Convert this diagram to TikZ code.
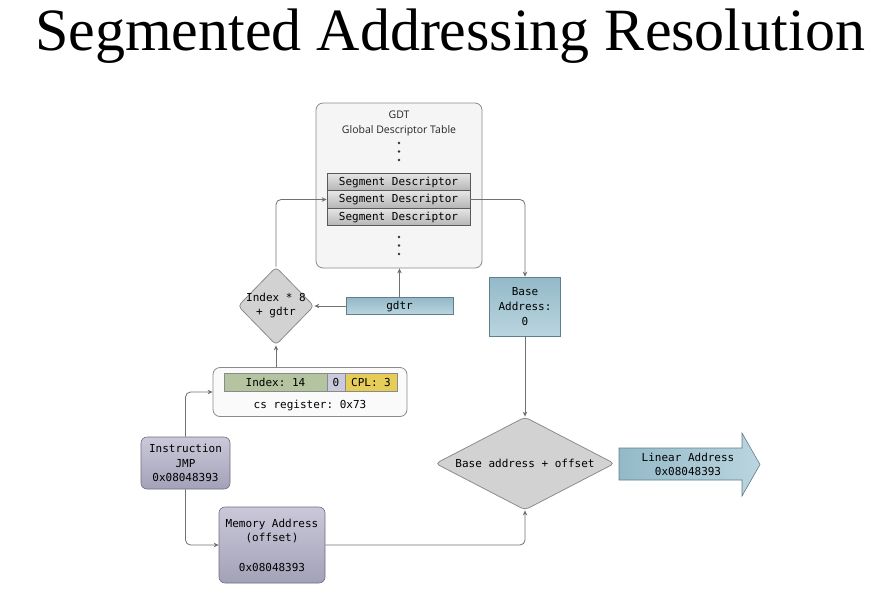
\documentclass[tikz,border=0pt]{standalone}
\usepackage{fontspec}
\setmainfont{Liberation Serif}
\setsansfont{Open Sans}
\setmonofont{DejaVu Sans Mono}
\usetikzlibrary{shapes.geometric,arrows.meta}
\definecolor{linec}{HTML}{707070}
\definecolor{boxborder}{HTML}{8A8A8A}
\definecolor{gdtfill}{HTML}{F5F5F5}
\definecolor{seglight}{HTML}{E6E6E6}
\definecolor{segdark}{HTML}{B4B4B4}
\definecolor{segborder}{HTML}{5A5A5A}
\definecolor{diamfill}{HTML}{D2D2D2}
\definecolor{diamborder}{HTML}{8C8C8C}
\definecolor{bluelight}{HTML}{BAD5DF}
\definecolor{bluedark}{HTML}{93B9C8}
\definecolor{blueborder}{HTML}{5F7F8C}
\definecolor{purplelight}{HTML}{CAC8D9}
\definecolor{purpledark}{HTML}{A3A1B7}
\definecolor{purpleborder}{HTML}{6E6C80}
\definecolor{csfill}{HTML}{FAFAFA}
\definecolor{idxfill}{HTML}{B4C3A0}
\definecolor{zerofill}{HTML}{CACADD}
\definecolor{cplfill}{HTML}{E6CC58}
\tikzset{
  conn/.style={draw=linec, line width=0.8pt, rounded corners=5pt, -{Stealth[length=5pt,width=4.5pt]}},
  mono/.style={font=\ttfamily\fontsize{11}{14.7}\selectfont},
  segrow/.style={mono, draw=segborder, line width=0.6pt, top color=seglight, bottom color=segdark, minimum width=143pt, minimum height=17.5pt, inner sep=0pt},
  bluebox/.style={mono, draw=blueborder, line width=0.6pt, top color=bluedark, bottom color=bluelight, inner sep=0pt, align=center},
  purplebox/.style={mono, draw=purpleborder, line width=0.6pt, top color=purplelight, bottom color=purpledark, rounded corners=6pt, inner sep=0pt, align=center},
  diam/.style={diamond, draw=diamborder, line width=0.8pt, fill=diamfill, rounded corners=4pt, inner sep=0pt},
  cell/.style={mono, draw=boxborder, line width=0.6pt, minimum height=18pt, inner sep=0pt},
  dot/.style={fill=black!80}
}
\begin{document}
\begin{tikzpicture}[x=1pt,y=-1pt]
\useasboundingbox (0,0) rectangle (888,592);
% title
\node[font=\fontsize{60}{60}\selectfont, anchor=base, inner sep=0pt] (title) at (450,50) {Segmented Addressing Resolution};
% GDT
\node[draw=boxborder, fill=gdtfill, rounded corners=7pt, line width=0.8pt, minimum width=166pt, minimum height=165pt] (gdt) at (399,185.5) {};
\node[font=\sffamily\fontsize{10.5}{15}\selectfont, align=center, text=black!85] (gdtlabel) at (399,123) {GDT\\Global Descriptor Table};
\fill[dot] (399,143) circle (1.3pt) (399,151.5) circle (1.3pt) (399,160) circle (1.3pt);
\fill[dot] (399,237) circle (1.3pt) (399,245.5) circle (1.3pt) (399,254) circle (1.3pt);
\node[segrow] (seg1) at (398.5,182) {Segment Descriptor};
\node[segrow] (seg2) at (398.5,199.5) {Segment Descriptor};
\node[segrow] (seg3) at (398.5,217) {Segment Descriptor};
% index diamond
\node[diam, minimum width=76pt, minimum height=78pt] (idx) at (276,306) {};
\node[mono, align=center, inner sep=0pt] (idxtext) at (276,305.5) {Index * 8\\+ gdtr};
% gdtr
\node[bluebox, minimum width=107pt, minimum height=17pt] (gdtr) at (399.5,306) {gdtr};
% base address
\node[bluebox, minimum width=71pt, minimum height=59pt] (base) at (525,306.5) {Base\\Address:\\0};
% cs register
\node[draw=boxborder, fill=csfill, rounded corners=7pt, line width=0.8pt, minimum width=194pt, minimum height=49pt] (cs) at (310,392) {};
\node[cell, fill=idxfill, minimum width=103pt] (idxcell) at (275.5,382) {Index: 14};
\node[cell, fill=zerofill, minimum width=18pt] (zerocell) at (336,382) {0};
\node[cell, fill=cplfill, minimum width=52pt] (cplcell) at (371,382) {CPL: 3};
\node[mono, inner sep=0pt] (cstext) at (310,405) {cs register: 0x73};
% instruction
\node[purplebox, minimum width=89pt, minimum height=52pt] (instr) at (185.5,463) {Instruction\\JMP\\0x08048393};
% memory address
\node[purplebox, minimum width=106pt, minimum height=76pt] (mem) at (272,545) {Memory Address\\(offset)\\[14.7pt]0x08048393};
% base + offset diamond
\node[diam, minimum width=179pt, minimum height=93pt] (bigd) at (525,463.5) {};
\node[mono, inner sep=0pt] (bigdtext) at (525,463.5) {Base address + offset};
% linear address arrow
\shade[left color=bluedark, right color=bluelight, draw=blueborder, line width=0.6pt]
  (619,448) -- (742,448) -- (742,433) -- (760,464.5) -- (742,496) -- (742,480) -- (619,480) -- cycle;
\node[mono, align=center, inner sep=0pt] (linear) at (688,464.5) {Linear Address\\0x08048393};
% connectors
\draw[conn] (instr.north) |- (cs.west);
\draw[conn] (instr.south) |- (mem.west);
\draw[conn] (mem.east) -| (bigd.south);
\draw[conn] (idx.south |- cs.north) -- (idx.south);
\draw[conn] (idx.north) |- (seg2.west);
\draw[conn] (seg2.east) -| (base.north);
\draw[conn] (gdtr.west) -- (idx.east);
\draw[conn] (gdtr.north) -- (gdtr.north |- gdt.south);
\draw[conn] (base.south) -- (bigd.north);
\end{tikzpicture}
\end{document}
